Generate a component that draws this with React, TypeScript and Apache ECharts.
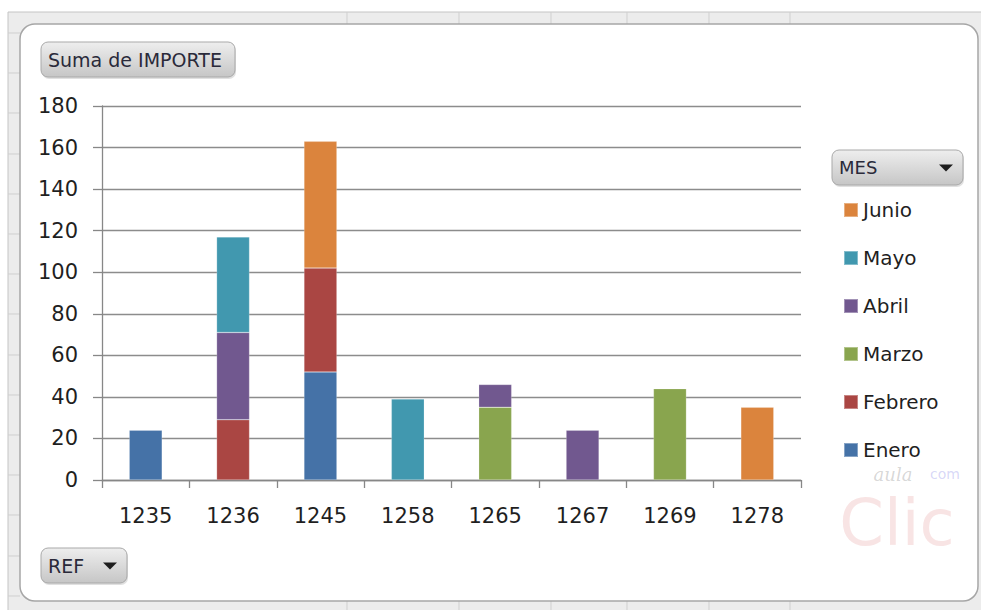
import React, { useEffect, useRef } from "react";
import * as echarts from "echarts";

const categories = ["1235", "1236", "1245", "1258", "1265", "1267", "1269", "1278"];
const enero = [24, null, 52, null, null, null, null, null];
const febrero = [null, 29, 50, null, null, null, null, null];
const marzo = [null, null, null, null, 35, null, 44, null];
const abril = [null, 42, null, null, 11, 24, null, null];
const mayo = [null, 46, null, 39, null, null, null, null];
const junio = [null, null, 61, null, null, null, null, 35];
const seriesNames = ["Enero", "Febrero", "Marzo", "Abril", "Mayo", "Junio"];
const seriesColors = ["#4572A7", "#AA4643", "#89A54E", "#71588F", "#4198AF", "#DB843D"];
const legendOrder = ["Junio", "Mayo", "Abril", "Marzo", "Febrero", "Enero"];
const yTicks = { min: 0, max: 180, interval: 20 };

const FONT = "DejaVu Sans";

function button(x: number, y: number, w: number, h: number, label: string, arrow: boolean, fontSize: number) {
  const children: any[] = [
    {
      type: "rect",
      shape: { x: x + 1, y: y + 2, width: w, height: h, r: 7 },
      style: { fill: "rgba(0,0,0,0.12)" },
    },
    {
      type: "rect",
      shape: { x, y, width: w, height: h, r: 7 },
      style: {
        fill: new echarts.graphic.LinearGradient(0, 0, 0, 1, [
          { offset: 0, color: "#eeeeee" },
          { offset: 1, color: "#c6c6c6" },
        ]),
        stroke: "#a9a9a9",
        lineWidth: 1,
      },
    },
    {
      type: "text",
      x: x + 7,
      y: y + h / 2,
      style: {
        text: label,
        font: `${fontSize}px '${FONT}'`,
        fill: "#2a2a3a",
        textVerticalAlign: "middle",
        verticalAlign: "middle",
      },
    },
  ];
  if (arrow) {
    const cx = x + w - 17;
    const cy = y + h / 2;
    children.push({
      type: "polygon",
      shape: { points: [[cx - 7, cy - 3], [cx + 7, cy - 3], [cx, cy + 4]] },
      style: { fill: "#1e1e1e" },
    });
  }
  return { type: "group", children };
}

export default function App() {
  const ref = useRef<HTMLDivElement>(null);
  useEffect(() => {
    if (!ref.current) return;
    const chart = echarts.init(ref.current, undefined, { renderer: "svg" });
    const dataSets = [enero, febrero, marzo, abril, mayo, junio];

    const stripLinesX = [347, 459, 551, 627, 709, 790];
    const stripLinesY: number[] = [];
    for (let i = 0; i < 15; i++) stripLinesY.push(Math.round(33 + i * 40.2));

    const frame: any[] = [
      {
        type: "rect",
        z: -20,
        shape: { x: 8, y: 12, width: 980, height: 604 },
        style: { fill: "#ececec", stroke: "#c4c4c4", lineWidth: 1 },
      },
      ...stripLinesX.map((x) => ({
        type: "line",
        z: -19,
        shape: { x1: x, y1: 12, x2: x, y2: 24 },
        style: { stroke: "#cfcfcf", lineWidth: 1 },
      })),
      ...stripLinesX.map((x) => ({
        type: "line",
        z: -19,
        shape: { x1: x, y1: 601, x2: x, y2: 610 },
        style: { stroke: "#cfcfcf", lineWidth: 1 },
      })),
      ...stripLinesY.map((y) => ({
        type: "line",
        z: -19,
        shape: { x1: 8, y1: y, x2: 20, y2: y },
        style: { stroke: "#cfcfcf", lineWidth: 1 },
      })),
      {
        type: "rect",
        z: -18,
        shape: { x: 20, y: 24, width: 958, height: 577, r: 15 },
        style: { fill: "#ffffff", stroke: "#a6a6a6", lineWidth: 1.5 },
      },
      {
        type: "text",
        z: -17,
        x: 893,
        y: 474,
        style: {
          text: "aula",
          font: `italic 18px 'DejaVu Serif'`,
          fill: "rgba(120,120,120,0.3)",
          textAlign: "center",
          verticalAlign: "middle",
          textVerticalAlign: "middle",
        },
      },
      {
        type: "text",
        z: -17,
        x: 945,
        y: 474,
        style: {
          text: "com",
          font: `14px '${FONT}'`,
          fill: "rgba(120,120,230,0.3)",
          textAlign: "center",
          verticalAlign: "middle",
          textVerticalAlign: "middle",
        },
      },
      {
        type: "text",
        z: -17,
        x: 897,
        y: 523,
        style: {
          text: "Clic",
          font: `64px '${FONT}'`,
          fill: "rgba(220,120,120,0.2)",
          textAlign: "center",
          verticalAlign: "middle",
          textVerticalAlign: "middle",
        },
      },
      button(41, 42, 194, 35, "Suma de IMPORTE", false, 19),
      button(832, 150, 131, 35, "MES", true, 18),
      button(41, 548, 86, 35, "REF", true, 19),
    ];

    chart.setOption({
      animation: false,
      backgroundColor: "#ffffff",
      textStyle: { fontFamily: FONT },
      graphic: { elements: frame },
      grid: { left: 102, right: 180, top: 106, bottom: 130, containLabel: false },
      legend: {
        data: legendOrder,
        orient: "vertical",
        left: 843,
        top: 200,
        itemWidth: 14,
        itemHeight: 14,
        itemGap: 28,
        icon: "rect",
        padding: 0,
        selectedMode: false,
        textStyle: { fontFamily: FONT, fontSize: 20, lineHeight: 20, color: "#1f1f1f" },
      },
      xAxis: {
        type: "category",
        data: categories,
        axisLine: { lineStyle: { color: "#878787", width: 1.3 } },
        axisTick: { show: true, length: 8, lineStyle: { color: "#878787", width: 1.3 } },
        axisLabel: { fontFamily: FONT, fontSize: 21, color: "#1f1f1f", margin: 25 },
        splitLine: { show: false },
      },
      yAxis: {
        type: "value",
        min: yTicks.min,
        max: yTicks.max,
        interval: yTicks.interval,
        axisLine: { show: true, lineStyle: { color: "#878787", width: 1.3 } },
        axisTick: { show: true, length: 9, lineStyle: { color: "#878787", width: 1.3 } },
        axisLabel: { fontFamily: FONT, fontSize: 21, color: "#1f1f1f", margin: 24 },
        splitLine: { show: true, lineStyle: { color: "#8c8c8c", width: 1.3 } },
      },
      series: seriesNames.map((name, i) => ({
        name,
        type: "bar",
        stack: "total",
        barWidth: 33,
        data: dataSets[i],
        itemStyle: { color: seriesColors[i], borderColor: "rgba(255,255,255,0.35)", borderWidth: 0.6 },
      })),
    });
    return () => chart.dispose();
  }, []);

  return (
    <div
      ref={ref}
      style={{ position: "absolute", left: 0, top: 0, width: 981, height: 610 }}
    />
  );
}
